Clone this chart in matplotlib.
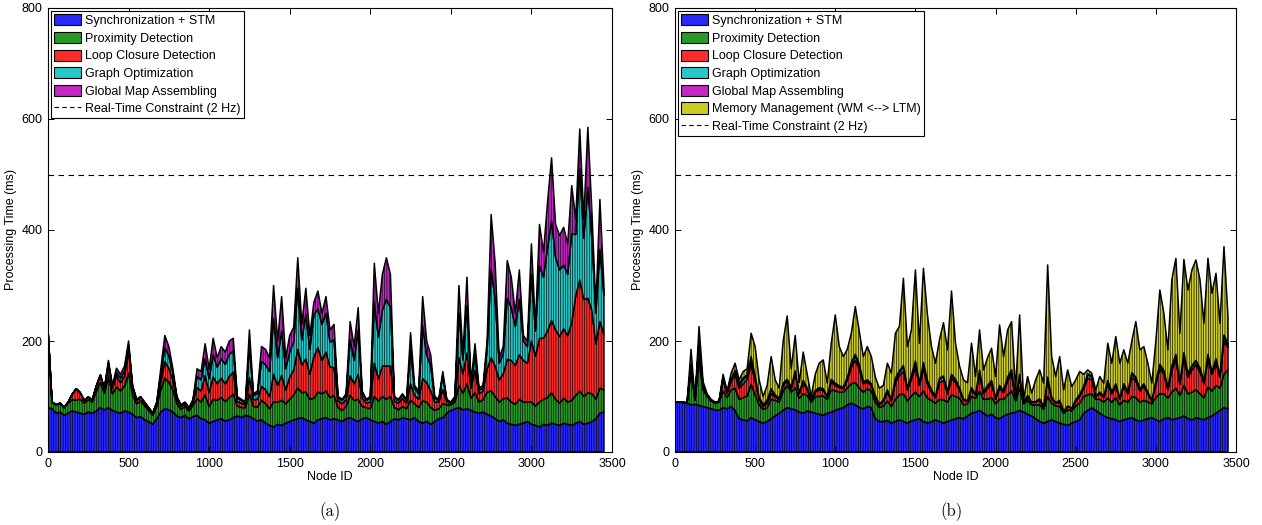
import matplotlib
matplotlib.use('Agg')
import matplotlib.pyplot as plt
from matplotlib.lines import Line2D
from matplotlib import colors as mcolors

# ---------------- data ----------------
node_ids = list(range(0, 3451, 25))
realtime_limit = 500  # ms (2 Hz)

# Panel (a)
a_sync = [80, 78, 70, 72, 66, 70, 74, 72, 70, 68,
          72, 70, 74, 80, 76, 80, 75, 72, 70, 74,
          72, 68, 62, 64, 58, 55, 50, 60, 72, 78,
          76, 72, 65, 62, 66, 60, 64, 66, 60, 58,
          52, 55, 58, 60, 56, 58, 62, 65, 62, 66,
          64, 60, 56, 58, 52, 48, 45, 50, 48, 52,
          55, 58, 60, 62, 58, 55, 52, 58, 60, 62,
          58, 60, 58, 55, 60, 62, 58, 55, 60, 62,
          58, 55, 52, 55, 50, 55, 60, 58, 62, 60,
          58, 62, 55, 52, 55, 50, 55, 60, 62, 70,
          75, 78, 80, 76, 78, 75, 72, 70, 72, 68,
          65, 60, 55, 58, 52, 50, 48, 50, 52, 55,
          50, 48, 45, 50, 48, 52, 50, 48, 52, 50,
          48, 52, 55, 50, 52, 55, 60, 70, 72]
a_prox = [140, 12, 15, 16, 14, 18, 20, 22, 25, 20,
          22, 20, 35, 45, 30, 55, 30, 45, 40, 45,
          70, 35, 25, 28, 25, 20, 16, 22, 40, 55,
          50, 40, 22, 15, 16, 14, 20, 30, 30, 45,
          30, 40, 35, 38, 35, 40, 42, 18, 18, 14,
          40, 22, 25, 35, 35, 30, 45, 40, 45, 35,
          40, 45, 55, 45, 50, 40, 45, 50, 45, 48,
          40, 42, 22, 20, 22, 40, 35, 40, 22, 18,
          20, 45, 40, 45, 45, 45, 20, 18, 20, 18,
          35, 25, 25, 40, 35, 30, 20, 18, 25, 15,
          10, 12, 40, 30, 45, 22, 35, 20, 22, 40,
          45, 40, 35, 38, 45, 40, 38, 45, 38, 35,
          40, 35, 45, 45, 50, 55, 45, 40, 45, 40,
          45, 50, 55, 50, 55, 50, 35, 45, 40]
a_loop = [0, 0, 0, 0, 0, 2, 10, 20, 12, 5,
          5, 4, 10, 12, 8, 20, 10, 20, 15, 18,
          40, 12, 6, 6, 5, 4, 3, 6, 15, 30,
          25, 18, 8, 5, 5, 4, 6, 20, 20, 35,
          25, 40, 30, 35, 32, 38, 40, 8, 8, 5,
          30, 12, 14, 25, 25, 22, 50, 30, 45, 25,
          40, 45, 70, 50, 60, 45, 75, 80, 60, 70,
          55, 50, 12, 12, 12, 35, 30, 45, 15, 8,
          12, 60, 40, 55, 60, 55, 12, 12, 14, 10,
          30, 15, 15, 40, 35, 30, 15, 12, 25, 6,
          3, 6, 50, 35, 55, 18, 40, 15, 16, 42,
          60, 55, 40, 45, 70, 75, 70, 80, 75, 70,
          110, 90, 115, 110, 120, 130, 125, 120, 125, 120,
          140, 180, 200, 175, 170, 150, 100, 120, 100]
a_graph = [0, 0, 0, 0, 0, 0, 0, 0, 0, 0,
           0, 0, 0, 2, 0, 5, 3, 6, 8, 8,
           10, 3, 1, 1, 1, 1, 1, 1, 12, 25,
           22, 12, 3, 2, 2, 1, 3, 20, 20, 30,
           25, 40, 30, 35, 35, 40, 38, 6, 5, 3,
           56, 8, 10, 45, 45, 45, 100, 50, 80, 38,
           45, 50, 110, 45, 80, 45, 75, 70, 65, 70,
           45, 50, 6, 6, 8, 65, 42, 80, 10, 5,
           7, 110, 75, 100, 120, 105, 6, 5, 6, 5,
           60, 12, 10, 95, 50, 45, 7, 3, 25, 2,
           1, 3, 80, 25, 85, 6, 30, 6, 6, 35,
           160, 120, 30, 35, 110, 95, 70, 100, 35, 30,
           120, 45, 130, 110, 150, 180, 130, 120, 115, 110,
           160, 110, 200, 110, 200, 130, 55, 130, 70]
a_map = [0, 0, 0, 0, 0, 0, 0, 0, 0, 0,
         0, 0, 0, 0, 0, 5, 2, 8, 7, 10,
         8, 2, 1, 1, 1, 0, 0, 1, 11, 22,
         17, 8, 2, 1, 1, 1, 2, 14, 15, 27,
         18, 30, 17, 22, 22, 24, 23, 3, 2, 2,
         30, 3, 5, 27, 28, 25, 60, 30, 62, 20,
         30, 27, 55, 28, 47, 25, 23, 32, 20, 30,
         22, 28, 2, 2, 3, 33, 25, 40, 3, 2,
         3, 70, 43, 65, 75, 60, 2, 2, 3, 2,
         32, 6, 5, 53, 25, 20, 3, 2, 8, 2,
         1, 1, 50, 9, 52, 4, 18, 4, 4, 15,
         98, 65, 10, 14, 68, 55, 24, 53, 10, 10,
         55, 7, 75, 45, 82, 113, 60, 62, 68, 55,
         87, 28, 72, 35, 108, 50, 10, 90, 18]

# Panel (b)
b_sync = [90, 90, 89, 88, 85, 86, 84, 82, 80, 78,
          76, 75, 80, 78, 82, 75, 60, 58, 56, 62,
          58, 55, 52, 55, 60, 65, 70, 75, 80, 78,
          76, 72, 70, 74, 72, 70, 68, 66, 70, 72,
          75, 78, 80, 85, 88, 85, 80, 78, 82, 80,
          60, 55, 55, 57, 52, 55, 58, 55, 52, 56,
          58, 60, 55, 52, 55, 58, 55, 52, 55, 58,
          60, 62, 60, 65, 70, 72, 75, 70, 65, 68,
          62, 60, 65, 68, 70, 72, 75, 72, 68, 65,
          60, 55, 52, 55, 58, 55, 52, 50, 48, 52,
          55, 58, 70, 75, 80, 75, 70, 65, 62, 60,
          58, 55, 58, 60, 62, 58, 55, 58, 60, 62,
          58, 55, 60, 62, 58, 60, 62, 65, 60, 58,
          62, 60, 58, 62, 65, 70, 75, 80, 78]
b_prox = [0, 0, 1, 0, 60, 8, 80, 30, 20, 14,
          12, 15, 30, 20, 30, 40, 35, 40, 45, 60,
          45, 30, 25, 25, 35, 28, 20, 35, 40, 30,
          40, 25, 35, 28, 18, 30, 32, 35, 25, 40,
          35, 30, 28, 30, 35, 40, 35, 30, 32, 30,
          30, 25, 28, 35, 30, 40, 45, 50, 40, 45,
          50, 40, 55, 45, 38, 30, 40, 42, 35, 45,
          40, 35, 25, 22, 30, 25, 35, 25, 30, 30,
          25, 35, 30, 35, 40, 20, 40, 15, 25, 20,
          25, 30, 25, 45, 30, 28, 30, 20, 28, 22,
          28, 30, 30, 28, 25, 20, 25, 25, 35, 30,
          40, 30, 35, 30, 38, 40, 35, 35, 30, 25,
          40, 50, 45, 35, 50, 55, 40, 55, 45, 50,
          50, 45, 40, 55, 45, 50, 40, 60, 70]
b_loop = [0, 0, 0, 0, 10, 0, 30, 5, 2, 1,
          1, 1, 20, 8, 15, 25, 20, 25, 30, 35,
          25, 10, 5, 8, 10, 6, 4, 10, 8, 6,
          25, 8, 20, 10, 3, 8, 12, 10, 5, 15,
          10, 8, 6, 15, 30, 40, 35, 15, 12, 10,
          8, 5, 8, 15, 10, 30, 35, 40, 20, 30,
          45, 20, 40, 25, 15, 10, 30, 35, 15, 30,
          25, 15, 8, 5, 12, 6, 30, 10, 20, 25,
          8, 20, 12, 25, 30, 4, 20, 2, 6, 4,
          5, 8, 4, 30, 8, 5, 8, 3, 6, 4,
          8, 12, 15, 30, 25, 5, 10, 8, 25, 15,
          20, 10, 25, 15, 35, 30, 20, 25, 15, 5,
          25, 45, 35, 15, 40, 50, 20, 50, 30, 40,
          45, 40, 25, 50, 30, 40, 20, 60, 40]
b_graph = [0, 0, 0, 0, 2, 0, 4, 1, 1, 0,
           0, 0, 3, 1, 3, 5, 5, 8, 6, 10,
           6, 3, 2, 4, 6, 3, 2, 3, 2, 2,
           4, 2, 3, 2, 1, 2, 3, 2, 1, 3,
           3, 2, 2, 3, 6, 8, 6, 3, 3, 2,
           2, 1, 2, 4, 2, 6, 6, 8, 3, 5,
           8, 4, 8, 5, 3, 2, 6, 6, 3, 5,
           5, 3, 2, 1, 3, 1, 6, 2, 4, 5,
           2, 4, 3, 5, 6, 1, 4, 1, 2, 1,
           1, 2, 1, 4, 2, 1, 2, 1, 1, 1,
           2, 3, 3, 6, 5, 1, 2, 2, 5, 3,
           4, 2, 4, 3, 6, 5, 3, 4, 2, 1,
           4, 6, 5, 3, 6, 8, 3, 7, 5, 6,
           6, 5, 3, 7, 4, 6, 3, 8, 5]
b_map = [0, 0, 0, 0, 1, 0, 1, 0, 0, 0,
         0, 0, 1, 0, 1, 2, 2, 3, 2, 5,
         3, 1, 1, 2, 3, 1, 1, 1, 1, 1,
         1, 0, 1, 1, 0, 1, 1, 1, 0, 1,
         1, 1, 1, 1, 2, 3, 2, 1, 1, 1,
         1, 0, 1, 1, 1, 2, 2, 3, 1, 2,
         3, 1, 3, 2, 1, 1, 2, 2, 1, 2,
         1, 1, 0, 0, 1, 0, 2, 1, 1, 1,
         1, 1, 1, 2, 2, 0, 1, 0, 1, 0,
         0, 1, 0, 1, 1, 0, 1, 0, 0, 0,
         1, 1, 1, 2, 2, 0, 1, 1, 2, 1,
         1, 1, 1, 1, 2, 2, 1, 1, 1, 0,
         1, 2, 2, 1, 2, 3, 1, 2, 2, 2,
         2, 2, 1, 2, 1, 2, 1, 3, 2]
b_memory = [0, 0, 0, 0, 27, 1, 27, 9, 2, 2,
            1, 1, 6, 3, 11, 13, 8, 11, 11, 42,
            53, 31, 15, 26, 58, 27, 18, 76, 114, 33,
            64, 18, 51, 25, 6, 29, 44, 52, 23, 65,
            123, 71, 55, 51, 53, 86, 59, 45, 60, 49,
            34, 29, 26, 48, 47, 81, 80, 157, 74, 82,
            164, 71, 170, 118, 78, 59, 69, 96, 75, 150,
            65, 39, 35, 32, 80, 32, 72, 40, 50, 58,
            38, 109, 61, 85, 87, 15, 107, 5, 34, 16,
            39, 52, 42, 202, 73, 47, 79, 38, 65, 39,
            36, 41, 21, 7, 5, 11, 28, 23, 67, 51,
            85, 62, 61, 51, 57, 100, 70, 67, 52, 31,
            72, 134, 103, 68, 155, 173, 88, 168, 150, 172,
            181, 159, 105, 173, 141, 154, 93, 159, 49]

labels_a = ['Synchronization + STM', 'Proximity Detection', 'Loop Closure Detection',
            'Graph Optimization', 'Global Map Assembling']
labels_b = labels_a + ['Memory Management (WM <--> LTM)']
rt_label = 'Real-Time Constraint (2 Hz)'

x_ticks = [0, 500, 1000, 1500, 2000, 2500, 3000, 3500]
y_ticks = [0, 200, 400, 600, 800]

colors = ['#2828ff', '#279a27', '#ff2c2c', '#28c8c8', '#c426c4', '#cccc22']
stripe_colors = ['#0808d0', '#167616', '#d01010', '#12a0a0', '#9a0e9a', '#a4a40c']

# ---------------- figure ----------------
plt.rcParams['font.family'] = ['Liberation Sans', 'DejaVu Sans']
plt.rcParams['hatch.linewidth'] = 0.45

W, H = 1262, 525
fig = plt.figure(figsize=(W / 100, H / 100), dpi=100)
axA = fig.add_axes([48 / W, 73 / H, 564 / W, 444 / H])
axB = fig.add_axes([675 / W, 73 / H, 561 / W, 444 / H])


def draw(ax, layers, labels):
    n = len(layers)
    polys = ax.stackplot(node_ids, *layers, colors=colors[:n],
                         edgecolor='black', linewidth=1.1)
    for p, sc in zip(polys, stripe_colors[:n]):
        p.set_hatch('|||||||')
        p._hatch_color = mcolors.to_rgba(sc)
    ax.axhline(realtime_limit, color='black', lw=0.8, linestyle=(0, (5, 4)))
    ax.set_xlim(0, 3500)
    ax.set_ylim(0, 800)
    ax.set_xticks(x_ticks)
    ax.set_yticks(y_ticks)
    ax.tick_params(direction='in', top=True, right=True, length=4, width=0.7,
                   labelsize=9, pad=4)
    for s in ax.spines.values():
        s.set_linewidth(0.8)
    ax.set_xlabel('Node ID', fontsize=9, labelpad=1)
    ax.set_ylabel('Processing Time (ms)', fontsize=9, labelpad=3)
    handles = [plt.Rectangle((0, 0), 1, 1, facecolor=c, edgecolor='black', lw=0.8)
               for c in colors[:n]]
    handles.append(Line2D([], [], color='black', lw=0.8, linestyle=(0, (4, 3))))
    leg = ax.legend(handles, labels + [rt_label], loc='upper left', fontsize=9,
                    frameon=True, fancybox=False, edgecolor='black', framealpha=1,
                    borderaxespad=0.25, borderpad=0.25, labelspacing=0.38,
                    handlelength=2.1, handleheight=1.0, handletextpad=0.35)
    leg.get_frame().set_linewidth(0.8)


draw(axA, [a_sync, a_prox, a_loop, a_graph, a_map], labels_a)
draw(axB, [b_sync, b_prox, b_loop, b_graph, b_map, b_memory], labels_b)

fig.text(330 / W, 1 - 512 / H, '(a)', ha='center', va='center', family='cmr10', fontsize=12)
fig.text(952 / W, 1 - 512 / H, '(b)', ha='center', va='center', family='cmr10', fontsize=12)

fig.savefig('out.png', dpi=100)
